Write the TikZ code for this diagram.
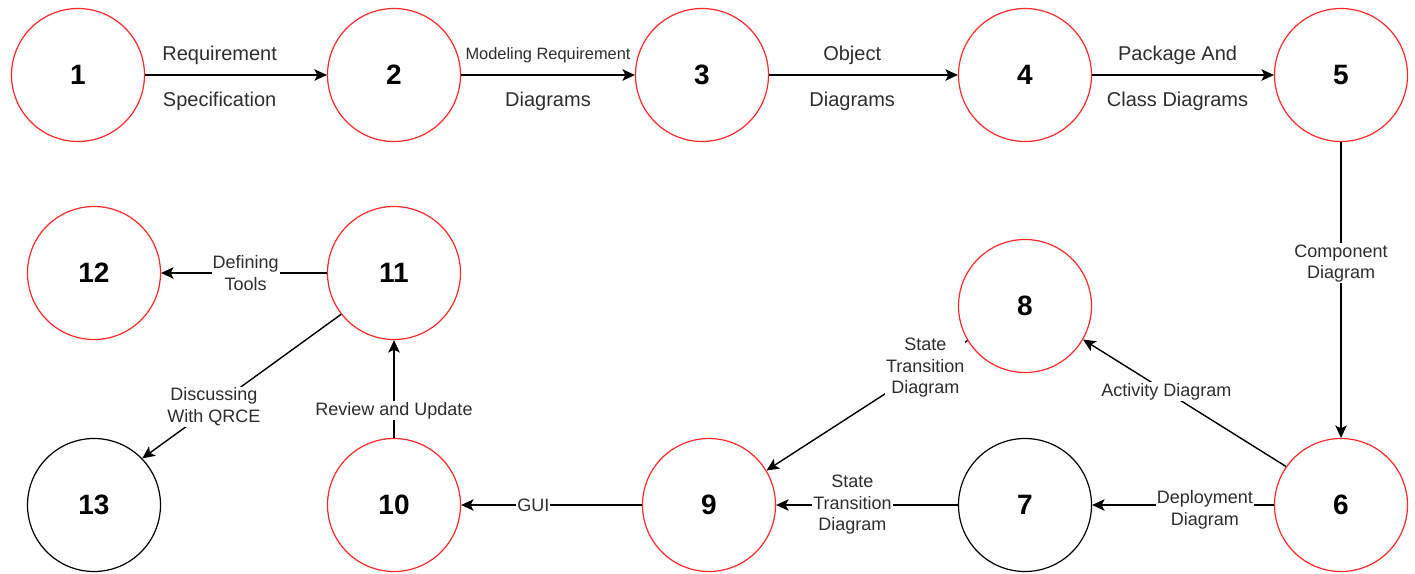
\documentclass[tikz,border=0pt]{standalone}
\usepackage{fontspec}
\setmainfont{Liberation Sans}
\usetikzlibrary{arrows.meta}
\definecolor{stagered}{RGB}{255,40,40}
\definecolor{labelgray}{RGB}{45,45,45}
\begin{document}
\begin{tikzpicture}[x=1pt,y=-1pt,
  stage/.style={circle, draw=stagered, line width=1.2pt, minimum size=133pt,
    inner sep=0pt, font=\fontsize{28}{30}\selectfont\bfseries},
  plainstage/.style={stage, draw=black},
  flow/.style={draw=black, line width=1.4pt,
    -{Stealth[length=12.5pt,width=11.5pt,inset=3pt]}},
  lbl/.style={fill=white, inner sep=1pt, text=labelgray, align=center,
    font=\fontsize{18}{21.5}\selectfont},
  toplbl/.style={inner sep=0pt, text=labelgray, font=\fontsize{20}{22}\selectfont},
  smalllbl/.style={inner sep=0pt, text=labelgray, font=\fontsize{16.4}{18}\selectfont},
]
\useasboundingbox (0,0) rectangle (1415,573);

% process stages
\node[stage] (n1) at (78,75) {1};
\node[stage] (n2) at (394,75) {2};
\node[stage] (n3) at (702,75) {3};
\node[stage] (n4) at (1025,75) {4};
\node[stage] (n5) at (1341,75) {5};
\node[stage] (n12) at (94,273) {12};
\node[stage] (n11) at (394,273) {11};
\node[stage] (n8) at (1025,306) {8};
\node[plainstage] (n13) at (94,505) {13};
\node[stage] (n10) at (394,505) {10};
\node[stage] (n9) at (709,505) {9};
\node[plainstage] (n7) at (1025,505) {7};
\node[stage] (n6) at (1341,505) {6};

% top row
\draw[flow] (n1) -- (n2)
  node[toplbl, pos=.41, yshift=20pt] {Requirement}
  node[toplbl, pos=.41, yshift=-26pt] {Specification};
\draw[flow] (n2) -- (n3)
  node[smalllbl, pos=.5, yshift=20pt] {Modeling Requirement}
  node[toplbl, pos=.5, yshift=-26pt] {Diagrams};
\draw[flow] (n3) -- (n4)
  node[toplbl, pos=.44, yshift=20pt] {Object}
  node[toplbl, pos=.44, yshift=-26pt] {Diagrams};
\draw[flow] (n4) -- (n5)
  node[toplbl, pos=.47, yshift=20pt] {Package And}
  node[toplbl, pos=.47, yshift=-26pt] {Class Diagrams};

% right column and bottom row
\draw[flow] (n5) -- (n6) node[lbl, pos=.41] {Component\\Diagram};
\draw[flow] (n6.145) -- (n8.330) node[lbl, pos=.59] {Activity Diagram};
\draw[flow] (n6) -- (n7) node[lbl, pos=.38, yshift=-5pt] {Deployment\\Diagram};
\draw[flow] (n7) -- (n9) node[lbl, pos=.58] {State\\Transition\\Diagram};
\draw[flow] (n8.211) -- (n9.31) node[lbl, pos=.21] {State\\Transition\\Diagram};
\draw[flow] (n9) -- (n10) node[lbl, pos=.6] {GUI};
\draw[flow] (n10) -- (n11) node[lbl, pos=.28] {Review and Update};
\draw[flow] (n11) -- (n12) node[lbl, pos=.49] {Defining\\Tools};
\draw[flow] (n11.218) -- (n13.44) node[lbl, pos=.64] {Discussing\\With QRCE};
\end{tikzpicture}
\end{document}
